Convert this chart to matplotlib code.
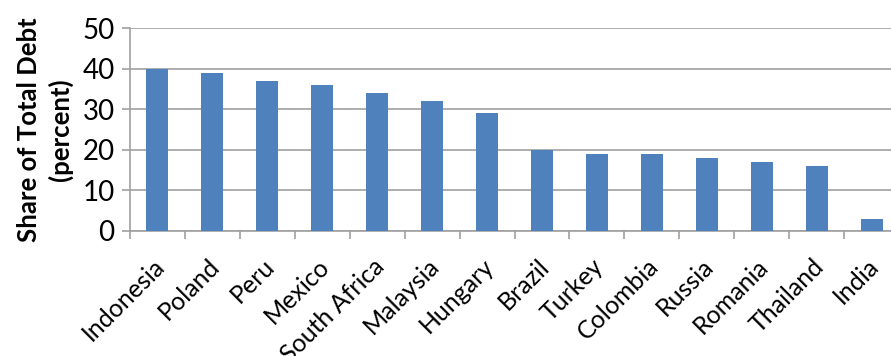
import matplotlib
matplotlib.use("Agg")
import matplotlib.pyplot as plt
import matplotlib.transforms as mtransforms
import numpy as np

countries = ["Indonesia", "Poland", "Peru", "Mexico", "South Africa", "Malaysia", "Hungary",
             "Brazil", "Turkey", "Colombia", "Russia", "Romania", "Thailand", "India"]
shares = [40, 39, 37, 36, 34, 32, 29, 20, 19, 19, 18, 17, 16, 3]
yticks = [0, 10, 20, 30, 40, 50]

plt.rcParams['font.family'] = ['Lato', 'DejaVu Sans']

fig = plt.figure(figsize=(8.91, 3.56), dpi=100)
ax = fig.add_axes([130/891, (356-230.7)/356, 769/891, 202.4/356])

x = np.arange(len(countries))
ax.bar(x, shares, width=0.4, color='#4F81BD', zorder=3)

ax.set_xlim(-0.5, len(countries) - 0.5)
ax.set_ylim(0, 50)
ax.set_yticks(yticks)
ax.set_yticklabels([str(v) for v in yticks], fontsize=20)
ax.yaxis.grid(True, color='#A0A0A0', linewidth=1.2, zorder=0)

ax.set_xticks(x)
ax.set_xticklabels(countries, rotation=45, ha='right', rotation_mode='anchor', fontsize=18)
ax.set_xticks(np.arange(-0.5, len(countries), 1), minor=True)
ax.tick_params(axis='x', which='major', length=0, pad=17)
ax.tick_params(axis='x', which='minor', length=6, color='#A0A0A0', width=1.2)
ax.tick_params(axis='y', length=6, color='#A0A0A0', width=1.2, pad=5)

offset = mtransforms.ScaledTranslation(-5/100, 0, fig.dpi_scale_trans)
for lbl in ax.get_xticklabels():
    lbl.set_transform(lbl.get_transform() + offset)

for s in ['top', 'right']:
    ax.spines[s].set_visible(False)
for s in ['left', 'bottom']:
    ax.spines[s].set_color('#A0A0A0')
    ax.spines[s].set_linewidth(1.2)

ax.set_ylabel("Share of Total Debt\n(percent)", fontsize=18.5, fontweight='bold', labelpad=7, linespacing=1.3)

fig.savefig("out.png", dpi=100)
